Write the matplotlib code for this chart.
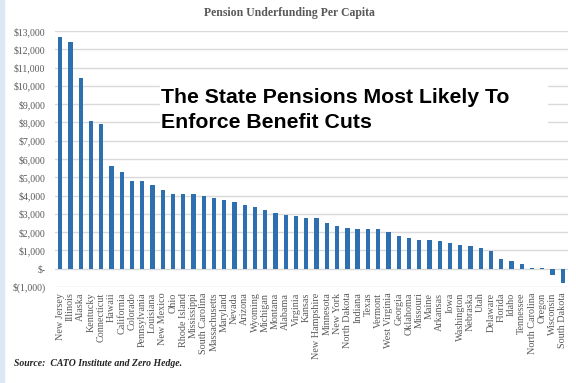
import matplotlib.pyplot as plt
from matplotlib.patches import Rectangle
from matplotlib.ticker import FuncFormatter

states = ['New Jersey', 'Illinois', 'Alaska', 'Kentucky', 'Connecticut', 'Hawaii',
          'California', 'Colorado', 'Pennsylvania', 'Louisiana', 'New Mexico', 'Ohio',
          'Rhode Island', 'Mississippi', 'South Carolina', 'Massachusetts', 'Maryland',
          'Nevada', 'Arizona', 'Wyoming', 'Michigan', 'Montana', 'Alabama', 'Virginia',
          'Kansas', 'New Hampshire', 'Minnesota', 'New York', 'North Dakota', 'Indiana',
          'Texas', 'Vermont', 'West Virginia', 'Georgia', 'Oklahoma', 'Missouri', 'Maine',
          'Arkansas', 'Iowa', 'Washington', 'Nebraska', 'Utah', 'Delaware', 'Florida',
          'Idaho', 'Tennessee', 'North Carolina', 'Oregon', 'Wisconsin', 'South Dakota']
underfunding = [12650, 12400, 10450, 8100, 7900, 5600, 5300, 4800, 4780, 4600, 4300,
                4100, 4080, 4070, 3980, 3850, 3780, 3650, 3480, 3400, 3200, 3020, 2950,
                2880, 2800, 2770, 2480, 2350, 2200, 2190, 2190, 2150, 2020, 1770, 1700,
                1580, 1550, 1500, 1380, 1270, 1240, 1130, 950, 510, 400, 250, 60, 40,
                -340, -780]
yticks = list(range(-1000, 14000, 1000))


def dollar(v, pos):
    if v == 0:
        return '$-'
    if v < 0:
        return '$({:,.0f})'.format(-v)
    return '${:,.0f}'.format(v)


fig = plt.figure(figsize=(5.76, 3.83), dpi=100)
fig.patch.set_facecolor('white')
fig.patches.append(Rectangle((0, 0), 0.007, 1, transform=fig.transFigure,
                             color='#dbe7f3', zorder=0))

ax = fig.add_axes([0.0955, 0.2507, 0.8905, 0.6683])
ax.bar(range(len(states)), underfunding, width=0.42, color='#2e6fb0', zorder=3)
ax.set_xlim(-0.5, len(states) - 0.5)
ax.set_ylim(-1000, 13000)
ax.set_yticks(yticks)
ax.yaxis.set_major_formatter(FuncFormatter(dollar))
ax.set_xticks(range(len(states)))
ax.set_xticklabels(states, rotation=90, fontsize=7.3, family='Liberation Serif',
                   color='#595959')
for lab in ax.get_yticklabels():
    lab.set_family('Liberation Serif')
    lab.set_fontsize(7)
    lab.set_color('#595959')
ax.tick_params(axis='x', length=0, pad=4)
ax.tick_params(axis='y', length=0, pad=7)
ax.grid(axis='y', color='#d9d9d9', linewidth=1, zorder=0)
for s in ax.spines.values():
    s.set_visible(False)

fig.text(0.503, 0.967, 'Pension Underfunding Per Capita', ha='center', va='center',
         fontsize=8.5, fontweight='bold', family='Liberation Serif', color='#595959')

# white box with the headline over the chart
fig.patches.append(Rectangle((160 / 576, 1 - 131 / 383), 387 / 576, 56 / 383,
                             transform=fig.transFigure, color='white', zorder=5))
fig.text(161 / 576, 1 - 103 / 383, 'The State Pensions Most Likely To', ha='left',
         va='baseline', fontsize=15.3, fontweight='bold', family='Liberation Sans',
         color='black', zorder=6)
fig.text(161 / 576, 1 - 128 / 383, 'Enforce Benefit Cuts', ha='left',
         va='baseline', fontsize=15.3, fontweight='bold', family='Liberation Sans',
         color='black', zorder=6)

fig.text(14 / 576, 1 - 364 / 383, 'Source:  CATO Institute and Zero Hedge.', ha='left',
         va='center', fontsize=7, fontweight='bold', fontstyle='italic',
         family='Liberation Serif', color='#222222')

fig.savefig('out.png', dpi=100)
